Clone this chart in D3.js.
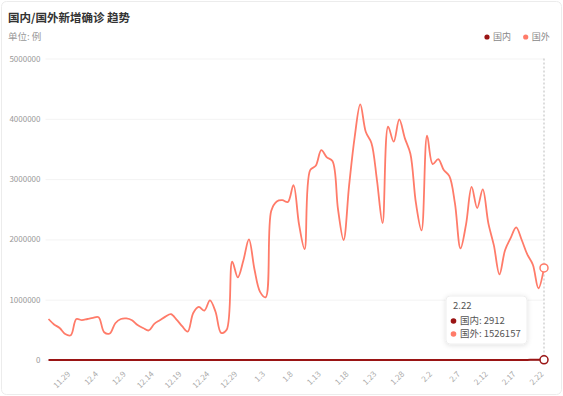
<!DOCTYPE html>
<html>
<head>
<meta charset="utf-8">
<script src="https://cdn.jsdelivr.net/npm/d3@7"></script>
<style>
  body { margin: 0; background: #fff; font-family: "Noto Sans CJK SC", "Noto Sans", sans-serif; }
</style>
</head>
<body>
<div id="chart"></div>
<script>
// dates (category axis)
var dates = [
  "11.25","11.26","11.27","11.28","11.29","11.30",
  "12.1","12.2","12.3","12.4","12.5","12.6","12.7","12.8","12.9","12.10",
  "12.11","12.12","12.13","12.14","12.15","12.16","12.17","12.18","12.19","12.20",
  "12.21","12.22","12.23","12.24","12.25","12.26","12.27","12.28","12.29","12.30","12.31",
  "1.1","1.2","1.3","1.4","1.5","1.6","1.7","1.8","1.9","1.10",
  "1.11","1.12","1.13","1.14","1.15","1.16","1.17","1.18","1.19","1.20",
  "1.21","1.22","1.23","1.24","1.25","1.26","1.27","1.28","1.29","1.30","1.31",
  "2.1","2.2","2.3","2.4","2.5","2.6","2.7","2.8","2.9","2.10",
  "2.11","2.12","2.13","2.14","2.15","2.16","2.17","2.18","2.19","2.20","2.21","2.22"
];

// 国内 new cases
var domestic = [
  38, 42, 31, 29, 35, 40,
  48, 52, 61, 75, 82, 97, 110, 124, 131, 119, 96, 88, 102, 115, 127, 140,
  151, 163, 178, 192, 206, 220, 245, 267, 284, 301, 312, 327, 342, 355, 372,
  360, 348, 331, 317, 298, 286, 274, 262, 251, 243, 236, 229, 218, 205, 196,
  184, 176, 168, 159, 151, 147, 142, 139, 135, 130, 128, 126, 131, 137, 145, 158,
  172, 190, 214, 247, 281, 330, 391, 468, 552, 641, 735, 842, 963, 1104, 1258,
  1427, 1613, 1822, 2049, 2287, 2546, 2912
];

// 国外 new cases
var foreign = [
  680000, 590000, 530000, 430000, 410000, 680000, 660000, 680000, 700000, 710000,
  460000, 440000, 610000, 680000, 690000, 660000, 580000, 530000, 490000, 600000,
  660000, 720000, 760000, 670000, 560000, 470000, 780000, 880000, 820000, 990000,
  800000, 450000, 500000, 1630000, 1370000, 1650000, 2000000, 1500000, 1130000, 1040000,
  2470000, 2630000, 2650000, 2620000, 2900000, 2250000, 1840000, 3150000, 3220000, 3480000,
  3360000, 3300000, 2500000, 1990000, 2900000, 3700000, 4240000, 3780000, 3600000, 2980000,
  2270000, 3870000, 3620000, 3990000, 3680000, 3420000, 2600000, 2150000, 3720000, 3250000,
  3330000, 3150000, 3050000, 2600000, 1850000, 2250000, 2870000, 2520000, 2830000, 2270000,
  1900000, 1420000, 1820000, 2020000, 2200000, 1990000, 1750000, 1580000, 1190000, 1526157
];

var yTicks = [0, 1000000, 2000000, 3000000, 4000000, 5000000];
var seriesNames = ["国内", "国外"];
var seriesColors = ["#9a1414", "#ff7b69"];

var width = 563, height = 396;
var margin = { top: 58.5, right: 19, bottom: 36, left: 48.5 };

var svg = d3.select("#chart").append("svg")
  .attr("width", width)
  .attr("height", height);

var defs = svg.append("defs");
var shadow = defs.append("filter").attr("id", "shadow")
  .attr("x", "-20%").attr("y", "-20%").attr("width", "140%").attr("height", "160%");
shadow.append("feDropShadow")
  .attr("dx", 0).attr("dy", 1).attr("stdDeviation", 2.5)
  .attr("flood-color", "#000").attr("flood-opacity", 0.12);

// card
svg.append("rect")
  .attr("x", 1.5).attr("y", 1.5)
  .attr("width", width - 3).attr("height", height - 3)
  .attr("rx", 5)
  .attr("fill", "#fff")
  .attr("stroke", "#ececec");

var x = d3.scalePoint()
  .domain(dates)
  .range([margin.left, width - margin.right]);

var y = d3.scaleLinear()
  .domain([0, 5000000])
  .range([height - margin.bottom, margin.top]);

// title
svg.append("text")
  .attr("x", 8).attr("y", 22)
  .attr("font-size", 11.5).attr("font-weight", "bold")
  .attr("fill", "#333")
  .text("国内/国外新增确诊 趋势");

svg.append("text")
  .attr("x", 8).attr("y", 40)
  .attr("font-size", 9.5)
  .attr("fill", "#999")
  .text("单位: 例");

// legend
var legend = svg.append("g");
var legendX = [487, 525.7];
seriesNames.forEach(function(name, i) {
  legend.append("circle")
    .attr("cx", legendX[i]).attr("cy", 37).attr("r", 2.6)
    .attr("fill", seriesColors[i]);
  legend.append("text")
    .attr("x", legendX[i] + 6).attr("y", 40.3)
    .attr("font-size", 9)
    .attr("fill", "#888")
    .text(name);
});

// grid
var leftAxis = d3.axisLeft(y)
  .tickValues(yTicks)
  .tickSize(-(width - margin.left - margin.right + 3))
  .tickPadding(5)
  .tickFormat(d3.format("d"));

var gy = svg.append("g")
  .attr("transform", "translate(" + (margin.left - 3) + ",0)")
  .call(leftAxis);
gy.select(".domain").remove();
gy.selectAll(".tick line").attr("stroke", "#f3f3f3");
gy.selectAll(".tick text")
  .attr("fill", "#999")
  .attr("font-size", 8)
  .attr("font-family", "\"Noto Sans CJK SC\", sans-serif");

// x axis labels, every 5 days ending at last date
var labelDates = dates.filter(function(d, i) { return (dates.length - 1 - i) % 5 === 0; });
var bottomAxis = d3.axisBottom(x)
  .tickValues(labelDates)
  .tickSize(0)
  .tickPadding(0);

var gx = svg.append("g")
  .attr("transform", "translate(0," + (height - margin.bottom) + ")")
  .call(bottomAxis);
gx.select(".domain").attr("stroke", "#ccc");
gx.selectAll(".tick text")
  .attr("fill", "#aaa")
  .attr("font-size", 8)
  .attr("font-family", "\"Noto Sans CJK SC\", sans-serif")
  .attr("text-anchor", "end")
  .attr("dy", null)
  .attr("y", 0)
  .attr("dominant-baseline", "middle")
  .attr("transform", "translate(-2,13) rotate(-45)");

// pointer line at last date
var lastDate = dates[dates.length - 1];
svg.append("line")
  .attr("x1", x(lastDate)).attr("x2", x(lastDate))
  .attr("y1", y(5000000)).attr("y2", y(0))
  .attr("stroke", "#bbb")
  .attr("stroke-dasharray", "2,2");

// lines
var line = d3.line()
  .x(function(d, i) { return x(dates[i]); })
  .y(function(d) { return y(d); })
  .curve(d3.curveCatmullRom.alpha(0.5));

svg.append("path")
  .datum(foreign)
  .attr("d", line)
  .attr("fill", "none")
  .attr("stroke", seriesColors[1])
  .attr("stroke-width", 1.8);

svg.append("path")
  .datum(domestic)
  .attr("d", line)
  .attr("fill", "none")
  .attr("stroke", seriesColors[0])
  .attr("stroke-width", 2);

// hover markers
[domestic, foreign].forEach(function(s, i) {
  svg.append("circle")
    .attr("cx", x(lastDate))
    .attr("cy", y(s[s.length - 1]))
    .attr("r", 4)
    .attr("fill", "#fff")
    .attr("stroke", seriesColors[i])
    .attr("stroke-width", 1.5);
});

// tooltip
var tip = svg.append("g").attr("transform", "translate(446,296)");
tip.append("rect")
  .attr("width", 81).attr("height", 48).attr("rx", 4)
  .attr("fill", "#fff")
  .attr("stroke", "#eee")
  .attr("filter", "url(#shadow)");
tip.append("text")
  .attr("x", 7).attr("y", 13)
  .attr("font-size", 9.5).attr("fill", "#555")
  .text(lastDate);
[domestic, foreign].forEach(function(s, i) {
  tip.append("circle")
    .attr("cx", 7.5).attr("cy", 25 + i * 13).attr("r", 2.8)
    .attr("fill", seriesColors[i]);
  tip.append("text")
    .attr("x", 14).attr("y", 28.3 + i * 13)
    .attr("font-size", 9.5).attr("fill", "#555")
    .text(seriesNames[i] + ": " + s[s.length - 1]);
});
</script>
</body>
</html>
